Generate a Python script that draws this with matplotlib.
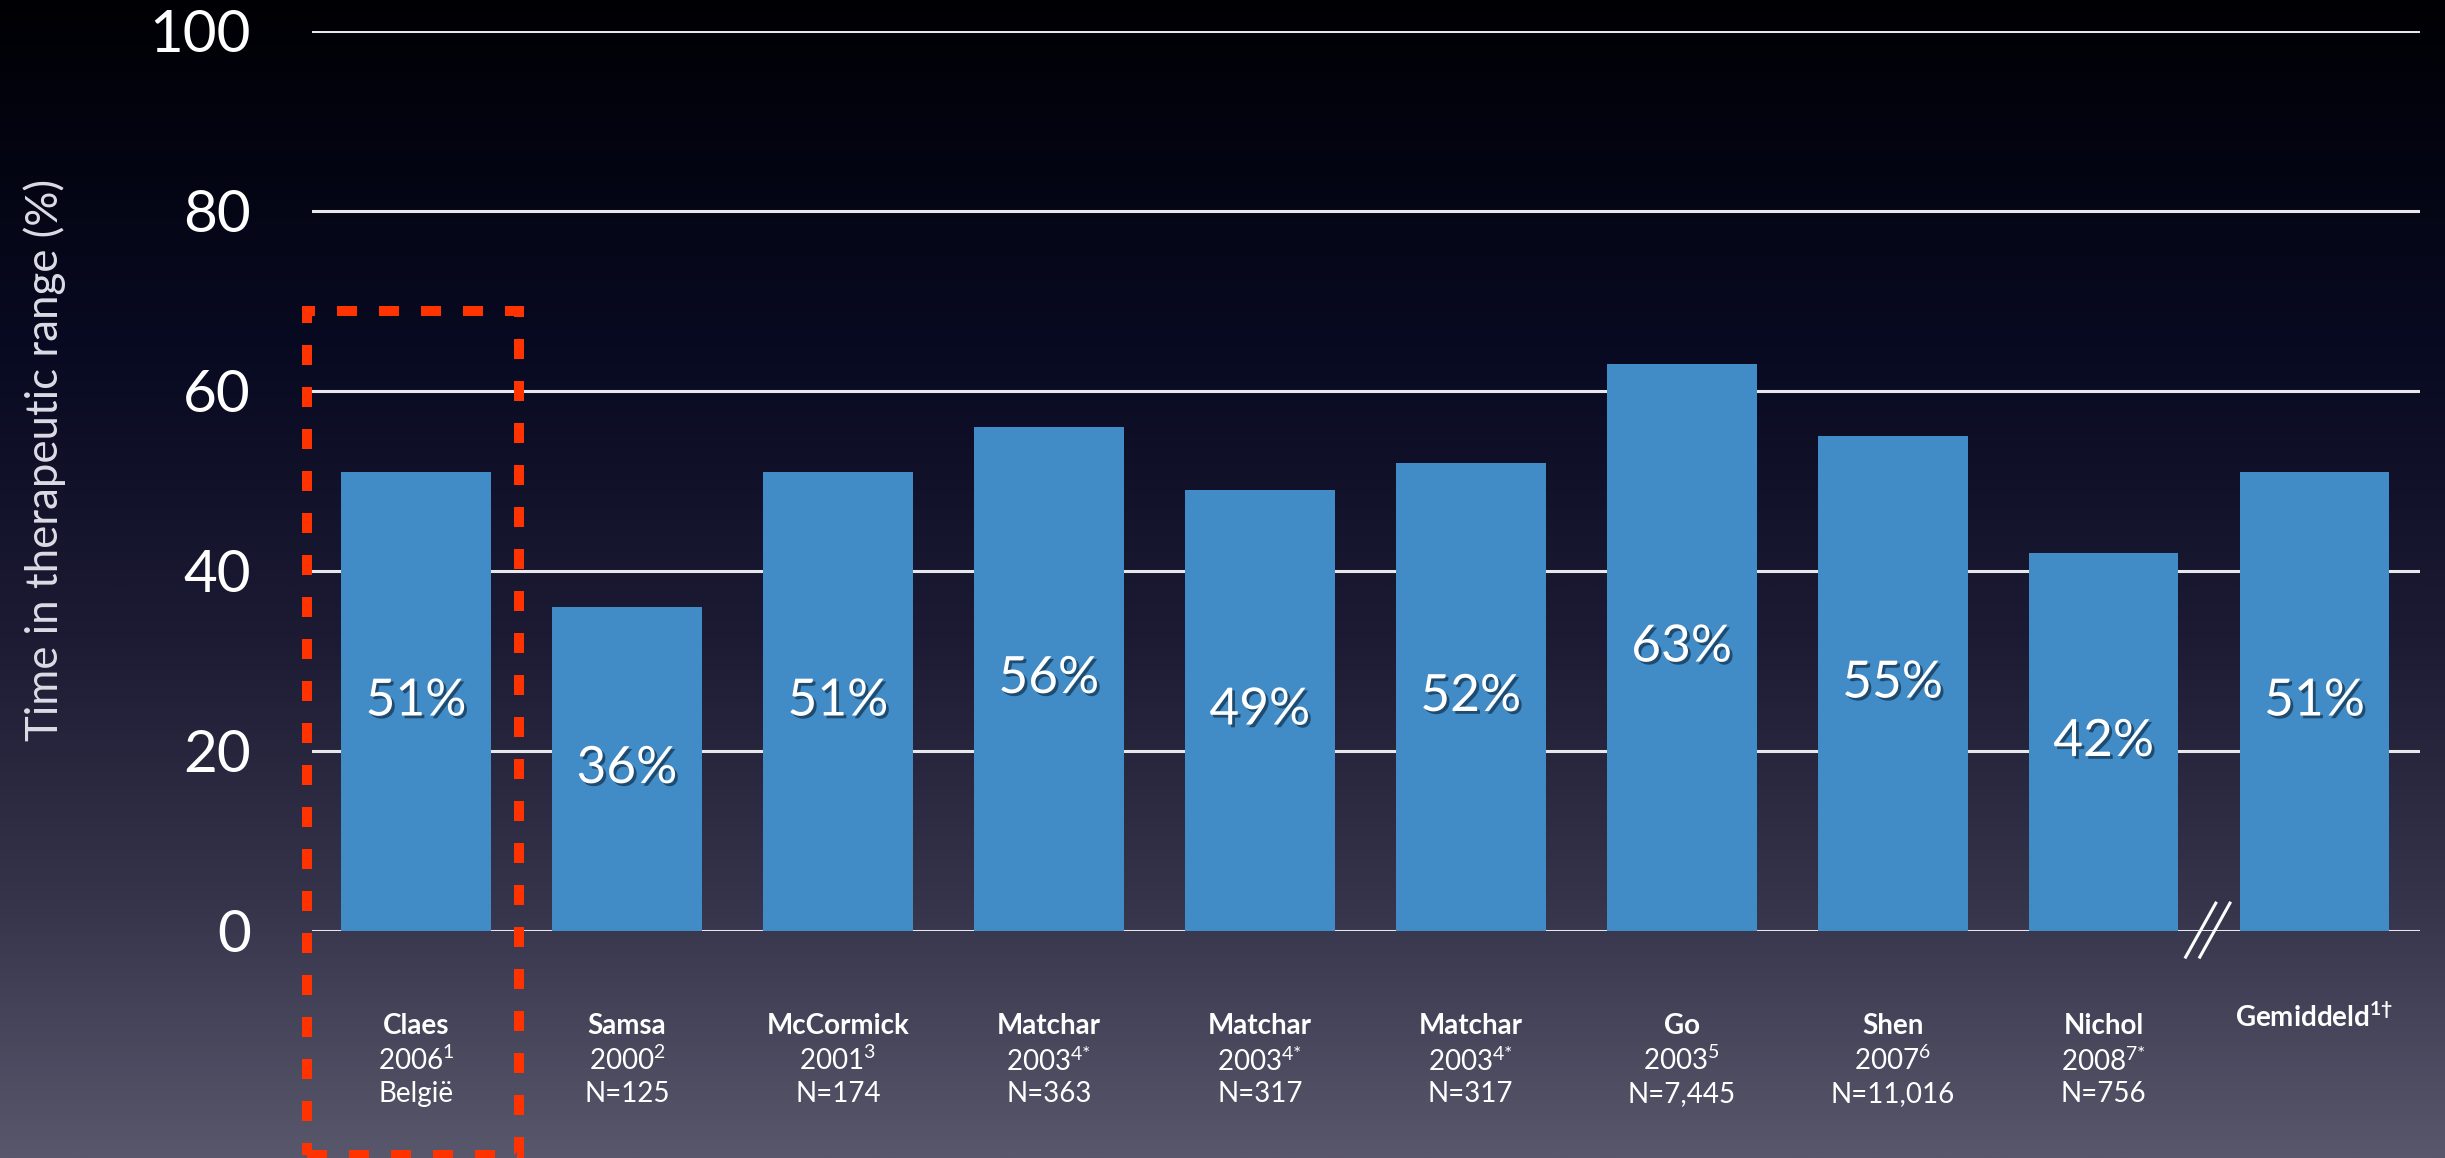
import numpy as np
import matplotlib.pyplot as plt
import matplotlib.patheffects as pe
from matplotlib.colors import LinearSegmentedColormap
from matplotlib.patches import Rectangle

plt.rcParams['font.family'] = ['Lato', 'DejaVu Sans']
plt.rcParams['mathtext.default'] = 'regular'

# data
studies = ['Claes', 'Samsa', 'McCormick', 'Matchar', 'Matchar', 'Matchar',
           'Go', 'Shen', 'Nichol', 'Gemiddeld$^{1†}$']
years = ['2006$^{1}$', '2000$^{2}$', '2001$^{3}$', '2003$^{4{*}}$', '2003$^{4{*}}$',
         '2003$^{4{*}}$', '2003$^{5}$', '2007$^{6}$', '2008$^{7{*}}$', '']
samples = ['België', 'N=125', 'N=174', 'N=363', 'N=317', 'N=317',
           'N=7,445', 'N=11,016', 'N=756', '']
ttr = [51, 36, 51, 56, 49, 52, 63, 55, 42, 51]
yticks = [0, 20, 40, 60, 80, 100]

W, H = 2445, 1158
fig = plt.figure(figsize=(W / 100, H / 100), dpi=100)

# achtergrond: verloop van bijna zwart naar grijspaars
bg = fig.add_axes([0, 0, 1, 1])
bg_cmap = LinearSegmentedColormap.from_list(
    'bg', [(0.0, '#000004'), (0.3, '#080a22'), (0.55, '#1c1b33'),
           (0.78, '#35344b'), (1.0, '#59576b')])
grad = np.linspace(0, 1, 512).reshape(-1, 1)
bg.imshow(grad, aspect='auto', cmap=bg_cmap, extent=[0, 1, 1, 0])
bg.axis('off')

ax = fig.add_axes([312 / W, (H - 931) / H, (2420 - 312) / W, 900 / H])
ax.set_facecolor('none')
x = np.arange(len(ttr))
bars = ax.bar(x, ttr, width=0.71, color='#418cc7', zorder=3)

ax.set_xlim(-0.493, 9.5)
ax.set_ylim(0, 100)
ax.set_yticks(yticks)
ax.set_yticklabels([str(t) for t in yticks], fontsize=42, color='white')
ax.tick_params(axis='y', length=0, pad=44)
ax.set_xticks([])
for s in ax.spines.values():
    s.set_visible(False)
ax.yaxis.grid(True, color='#e8e8ec', linewidth=2.2, zorder=1)
ax.set_axisbelow(True)

ax.set_ylabel('Time in therapeutic range (%)', fontsize=31.5, color='#dcdce6',
              labelpad=0)
ax.yaxis.set_label_coords(-(312 - 66) / 2108, (931 - 460) / 900)

# percentages in de balken
shadow = [pe.withSimplePatchShadow(offset=(2, -2), shadow_rgbFace='#10304a', alpha=0.7)]
for xi, v in zip(x, ttr):
    ax.text(xi, v / 2, f'{v}%', ha='center', va='center', fontsize=37,
            color='white', path_effects=shadow, zorder=4)

# categorielabels onder de as
for xi, name, yr, n in zip(x, studies, years, samples):
    if yr:
        ax.text(xi, -10.6, name, ha='center', va='center', fontsize=20,
                fontweight='bold', color='white', clip_on=False)
        ax.text(xi, -14.4, yr, ha='center', va='center', fontsize=20,
                color='white', clip_on=False)
        ax.text(xi, -18.1, n, ha='center', va='center', fontsize=20,
                color='white', clip_on=False)
    else:
        ax.text(xi, -9.6, name, ha='center', va='center', fontsize=20,
                fontweight='bold', color='white', clip_on=False)

# asbreuk tussen Nichol en gemiddelde
for dx in (0, 0.067):
    ax.plot([8.389 + dx, 8.532 + dx], [-2.9, 3.1], color='white', lw=2.2,
            clip_on=False, zorder=5)

# rood gestippeld kader rond Claes
box = Rectangle((-0.517, -24.9), 1.006, 93.8, fill=False, edgecolor='#ff3300',
                linewidth=7.2, linestyle=(0, (2.0, 2.2)), clip_on=False, zorder=6)
ax.add_patch(box)

fig.savefig('out.png', dpi=100)
